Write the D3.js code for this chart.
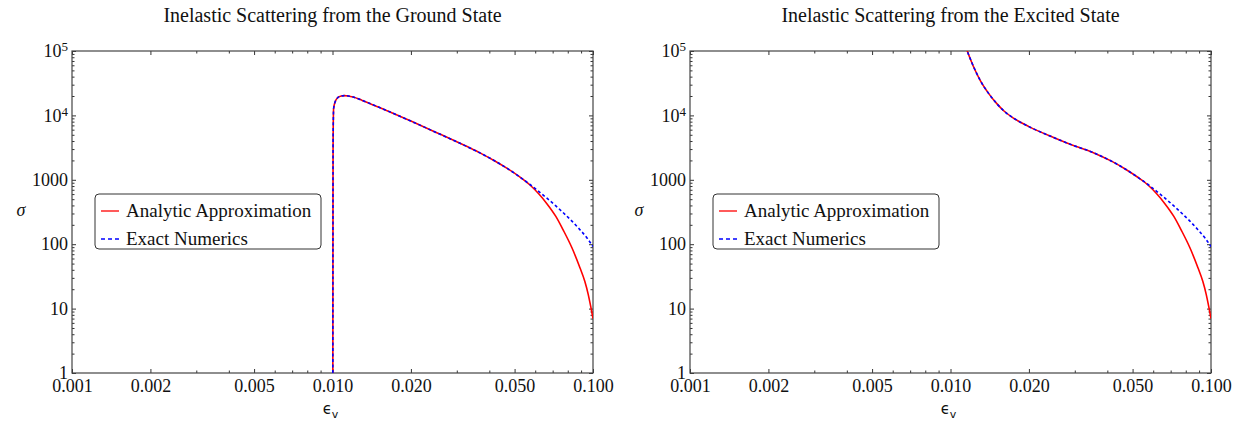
<!DOCTYPE html>
<html>
<head>
<meta charset="utf-8">
<script src="https://cdnjs.cloudflare.com/ajax/libs/d3/7.8.5/d3.min.js"></script>
<style>
body{margin:0;background:#fff;}
text{font-family:"Liberation Serif","Times New Roman",serif;fill:#111;}
</style>
</head>
<body>
<script>
var titles=["Inelastic Scattering from the Ground State","Inelastic Scattering from the Excited State"];
var xTickVals=[0.001,0.002,0.005,0.01,0.02,0.05,0.1];
var xTickLabels=["0.001","0.002","0.005","0.010","0.020","0.050","0.100"];
var xMinorVals=[0.003,0.004,0.006,0.007,0.008,0.009,0.03,0.04,0.06,0.07,0.08,0.09];
var yTickVals=[1,10,100,1000,1e4,1e5];
var yTickLabels=["1","10","100","1000","10|4","10|5"];
var legendNames=["Analytic Approximation","Exact Numerics"];

// ground state
var groundExactEps=[0.01003,0.01004,0.01005,0.01008,0.0101,0.01025,0.0105,0.0108,0.0111,0.0115,0.012,0.013,0.015,0.0175,0.02,0.025,0.03,0.0337,0.0368,0.042,0.047,0.052,0.0573,0.062,0.0664,0.072,0.0769,0.083,0.0891,0.095,0.1];
var groundExactSig=[1,100,3000,10000,12800,16500,19000,20000,20250,20050,19300,17100,13500,10350,8160,5440,3890,3120,2620,1960,1490,1130,845,657,522,393,308,228,168,124,92];
var groundApproxEps=[0.01003,0.01004,0.01005,0.01008,0.0101,0.01025,0.0105,0.0108,0.0111,0.0115,0.012,0.013,0.015,0.0175,0.02,0.025,0.03,0.0337,0.0368,0.042,0.047,0.052,0.0573,0.062,0.0664,0.072,0.0769,0.083,0.0891,0.093,0.0959,0.098,0.1];
var groundApproxSig=[1,100,3000,10000,12800,16500,19000,20000,20250,20050,19300,17100,13500,10350,8160,5440,3890,3120,2620,1960,1490,1130,830,600,430,270,165,88,43,26.5,16.5,10.8,7];

// excited state
var excitedExactEps=[0.0113,0.0116,0.012,0.0125,0.013,0.014,0.015,0.016,0.0175,0.02,0.025,0.03,0.0337,0.0368,0.042,0.047,0.052,0.0573,0.062,0.0664,0.072,0.0769,0.083,0.0891,0.095,0.1];
var excitedExactSig=[140000,100000,70000,48000,35000,22000,15500,11800,9000,6700,4500,3350,2850,2450,1900,1460,1115,845,657,522,393,308,228,168,124,92];
var excitedApproxEps=[0.0113,0.0116,0.012,0.0125,0.013,0.014,0.015,0.016,0.0175,0.02,0.025,0.03,0.0337,0.0368,0.042,0.047,0.052,0.0573,0.062,0.0664,0.072,0.0769,0.083,0.0891,0.093,0.0959,0.098,0.1];
var excitedApproxSig=[140000,100000,70000,48000,35000,22000,15500,11800,9000,6700,4500,3350,2850,2450,1900,1460,1115,830,600,430,270,165,88,43,26.5,16.5,10.8,7];

var panels=[
	{left:72,approx:[groundApproxEps,groundApproxSig],exact:[groundExactEps,groundExactSig]},
	{left:690,approx:[excitedApproxEps,excitedApproxSig],exact:[excitedExactEps,excitedExactSig]}
];
var pw=521, plotTop=51, ph=322;

var svg=d3.select("body").append("svg")
	.attr("width",1245)
	.attr("height",423);

var yMinorVals=[];
for (var d=1; d<1e5; d*=10){
	for (var k=2; k<10; k++) yMinorVals.push(d*k);
}

panels.forEach(function(p,i){
	var x=d3.scaleLog().domain([0.001,0.1]).range([0,pw]);
	var y=d3.scaleLog().domain([1,1e5]).range([ph,0]);
	var g=svg.append("g").attr("transform","translate("+p.left+","+plotTop+")");

	g.append("clipPath").attr("id","clip"+i)
		.append("rect").attr("width",pw).attr("height",ph);

	// title
	svg.append("text")
		.attr("x",p.left+pw/2)
		.attr("y",22)
		.attr("text-anchor","middle")
		.style("font-size","20px")
		.text(titles[i]);

	// ticks: bottom labelled, top mirrored
	g.append("g").attr("transform","translate(0,"+ph+")")
		.call(d3.axisBottom(x).tickValues(xTickVals).tickSizeInner(-4).tickSizeOuter(0).tickPadding(6)
			.tickFormat(function(d,j){return xTickLabels[j];}))
		.call(function(a){a.select(".domain").remove();});
	g.append("g").attr("transform","translate(0,"+ph+")")
		.call(d3.axisBottom(x).tickValues(xMinorVals).tickSizeInner(-2.5).tickSizeOuter(0).tickFormat(""))
		.call(function(a){a.select(".domain").remove();});
	g.append("g")
		.call(d3.axisTop(x).tickValues(xTickVals).tickSizeInner(-4).tickSizeOuter(0).tickFormat(""))
		.call(function(a){a.select(".domain").remove();});
	g.append("g")
		.call(d3.axisTop(x).tickValues(xMinorVals).tickSizeInner(-2.5).tickSizeOuter(0).tickFormat(""))
		.call(function(a){a.select(".domain").remove();});

	var ya=g.append("g")
		.call(d3.axisLeft(y).tickValues(yTickVals).tickSizeInner(-4).tickSizeOuter(0).tickPadding(4).tickFormat(""))
		.call(function(a){a.select(".domain").remove();});
	g.append("g")
		.call(d3.axisLeft(y).tickValues(yMinorVals).tickSizeInner(-2.5).tickSizeOuter(0).tickFormat(""))
		.call(function(a){a.select(".domain").remove();});
	g.append("g").attr("transform","translate("+pw+",0)")
		.call(d3.axisRight(y).tickValues(yTickVals).tickSizeInner(-4).tickSizeOuter(0).tickFormat(""))
		.call(function(a){a.select(".domain").remove();});
	g.append("g").attr("transform","translate("+pw+",0)")
		.call(d3.axisRight(y).tickValues(yMinorVals).tickSizeInner(-2.5).tickSizeOuter(0).tickFormat(""))
		.call(function(a){a.select(".domain").remove();});

	// y labels with superscripts
	ya.selectAll(".tick text").each(function(d,j){
		var t=d3.select(this);
		var parts=yTickLabels[j].split("|");
		t.text(parts[0]);
		if (parts.length>1){
			t.append("tspan").attr("dy","-0.45em").style("font-size","13px").text(parts[1]);
		}
	});

	g.selectAll(".tick text").style("font-size","18px").style("font-family","Liberation Serif, serif").attr("fill","#111");
	g.selectAll(".tick line").attr("stroke","#333");

	// frame
	g.append("rect")
		.attr("width",pw).attr("height",ph)
		.attr("fill","none")
		.attr("stroke","#444")
		.attr("stroke-width",1.2);

	// curves
	var line=d3.line()
		.x(function(d){return x(d[0]);})
		.y(function(d){return y(d[1]);})
		.curve(d3.curveMonotoneX);
	var approx=d3.zip(p.approx[0],p.approx[1]);
	var exact=d3.zip(p.exact[0],p.exact[1]);
	var cg=g.append("g").attr("clip-path","url(#clip"+i+")");
	cg.append("path").datum(approx)
		.attr("d",line).attr("fill","none")
		.attr("stroke","#ff0000").attr("stroke-width",1.6);
	cg.append("path").datum(exact)
		.attr("d",line).attr("fill","none")
		.attr("stroke","#0000ff").attr("stroke-width",1.6)
		.attr("stroke-dasharray","3,2.5");

	// axis labels
	svg.append("text")
		.attr("x",p.left-51).attr("y",plotTop+ph/2+4)
		.attr("text-anchor","middle")
		.style("font-style","italic")
		.style("font-size","18px")
		.text("σ");
	var xl=svg.append("text")
		.attr("x",p.left+pw/2-2).attr("y",414)
		.attr("text-anchor","middle")
		.style("font-family","DejaVu Sans, sans-serif")
		.style("font-size","15px")
		.text("ϵ");
	xl.append("tspan").attr("dy","4").style("font-size","11px").text("v");

	// legend
	var lg=g.append("g").attr("transform","translate(23,143)");
	lg.append("rect")
		.attr("width",226).attr("height",55)
		.attr("rx",4)
		.attr("fill","#fff")
		.attr("stroke","#333")
		.attr("stroke-width",1);
	var cols=["#ff0000","#0000ff"];
	legendNames.forEach(function(n,j){
		lg.append("line")
			.attr("x1",6).attr("x2",24)
			.attr("y1",17+j*28).attr("y2",17+j*28)
			.attr("stroke",cols[j]).attr("stroke-width",1.3)
			.attr("stroke-dasharray",j==1?"4,3":null);
		lg.append("text")
			.attr("x",31).attr("y",23+j*28)
			.style("font-size","19px")
			.text(n);
	});
});
</script>
</body>
</html>
